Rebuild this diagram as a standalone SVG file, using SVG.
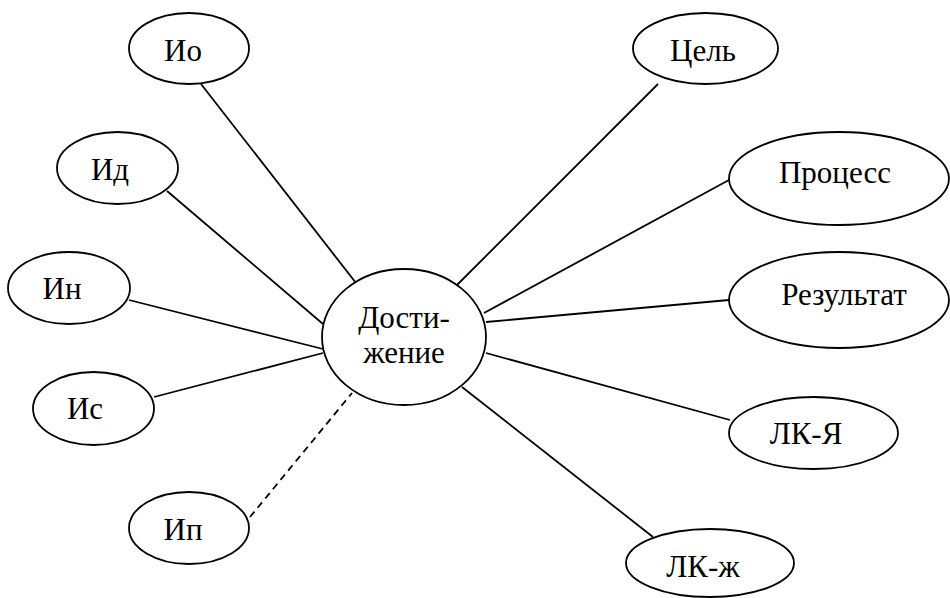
<svg xmlns="http://www.w3.org/2000/svg" width="950" height="598" viewBox="0 0 950 598">
<style>
.n ellipse{fill:#fff;stroke:#000;stroke-width:1.8}
.n text{font-family:"Times New Roman",Times,Tinos,"Liberation Serif","DejaVu Serif","Noto Serif",serif;font-size:31px;fill:#000;text-anchor:middle}
.c line{stroke:#000;stroke-width:1.8}
.c .d{stroke-dasharray:7 5}
</style>
<rect width="950" height="598" fill="#fff"/>
<g class="c" id="connectors">
<line x1="201" y1="84" x2="356" y2="283"/>
<line x1="167" y1="191" x2="323" y2="324"/>
<line x1="129" y1="300" x2="323" y2="349"/>
<line x1="154" y1="397" x2="323" y2="353"/>
<line class="d" x1="250" y1="517" x2="352" y2="393"/>
<line x1="658" y1="84" x2="457" y2="285"/>
<line x1="729" y1="180" x2="484" y2="313"/>
<line x1="729" y1="300" x2="486" y2="322"/>
<line x1="730" y1="420" x2="486" y2="353"/>
<line x1="653" y1="537" x2="462" y2="387"/>
</g>
<g class="n" id="center"><ellipse cx="404" cy="337" rx="82" ry="68"/><text x="404" y="328">Дости-</text><text x="404" y="363">жение</text></g>
<g class="n" id="io"><ellipse cx="189" cy="48.5" rx="60" ry="35.5"/><text x="183" y="61">Ио</text></g>
<g class="n" id="id"><ellipse cx="117.5" cy="168" rx="60.5" ry="36"/><text x="110" y="180">Ид</text></g>
<g class="n" id="in"><ellipse cx="69" cy="288" rx="61" ry="36"/><text x="62" y="299">Ин</text></g>
<g class="n" id="is"><ellipse cx="93.5" cy="408.5" rx="60.5" ry="36.5"/><text x="85" y="419">Ис</text></g>
<g class="n" id="ip"><ellipse cx="189" cy="528" rx="60" ry="36"/><text x="183" y="540">Ип</text></g>
<g class="n" id="cel"><ellipse cx="705.5" cy="48.5" rx="72.5" ry="35.5"/><text x="703" y="61">Цель</text></g>
<g class="n" id="process"><ellipse cx="839" cy="178.5" rx="110" ry="46.5"/><text x="835" y="183">Процесс</text></g>
<g class="n" id="result"><ellipse cx="839" cy="300" rx="110" ry="48"/><text x="844" y="305">Результат</text></g>
<g class="n" id="lk-ya"><ellipse cx="813.5" cy="433" rx="84.5" ry="36"/><text x="806" y="444">ЛК-Я</text></g>
<g class="n" id="lk-zh"><ellipse cx="710" cy="563" rx="84" ry="34"/><text x="703" y="577">ЛК-ж</text></g>
</svg>
